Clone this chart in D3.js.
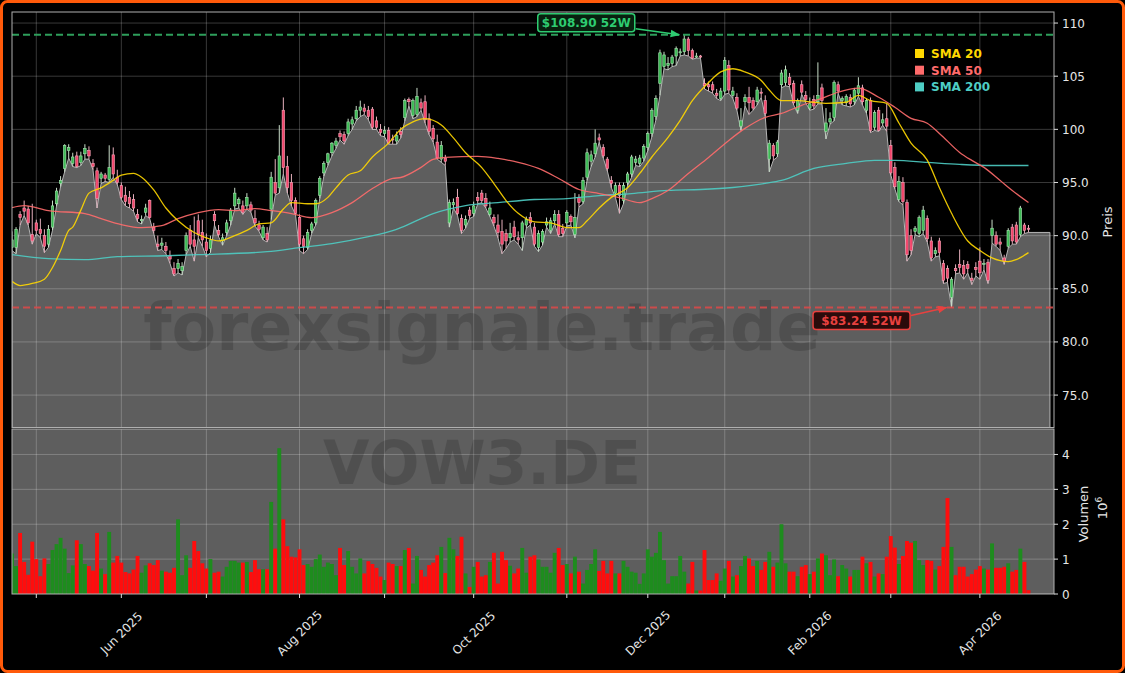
<!DOCTYPE html>
<html>
<head>
<meta charset="utf-8">
<script src="https://cdn.jsdelivr.net/npm/d3@7"></script>
<style>
body{margin:0;background:#000;}
svg{display:block;font-family:"DejaVu Sans",sans-serif;}
</style>
</head>
<body>
<script>
// daily candles, one per trading day (index 0 = first visible day)
var opens=[88.9,88.9,92.0,92.6,92.5,90.1,91.2,90.6,90.0,89.2,
90.8,93.0,94.9,96.3,98.0,96.8,97.5,96.9,97.7,98.0,
96.8,96.1,95.4,95.7,95.3,97.6,95.5,94.7,93.8,93.6,
93.4,92.0,91.4,92.2,93.3,90.8,89.2,89.1,89.0,88.1,
86.9,86.9,86.7,88.6,90.5,89.6,91.4,90.3,89.4,88.8,
92.0,90.5,89.5,90.3,91.4,92.8,93.0,92.8,92.8,92.9,
91.6,91.0,89.8,90.2,92.5,95.0,94.5,101.8,96.5,95.0,
93.3,91.7,89.7,88.9,90.5,91.2,93.8,95.9,96.9,97.8,
98.5,99.6,99.5,99.6,100.5,101.0,101.8,102.0,101.8,101.9,
100.8,100.0,99.6,99.9,99.1,98.9,99.8,101.1,102.8,101.3,
101.4,102.5,102.6,101.0,100.1,98.8,97.2,97.3,91.2,92.9,
93.6,91.6,91.0,92.4,92.1,93.6,94.0,93.5,92.0,91.7,
91.0,90.4,90.2,89.8,90.8,89.8,89.8,91.0,91.7,90.8,
88.9,89.4,91.0,90.5,91.4,92.0,90.7,91.2,91.8,90.1,
93.6,93.2,95.5,97.0,97.7,99.2,98.3,97.2,95.2,94.0,
94.7,93.3,95.0,95.8,96.9,96.8,97.3,98.3,99.6,101.2,
104.3,105.9,106.0,106.2,106.9,107.2,107.3,108.5,107.4,106.8,
106.9,104.3,104.2,104.2,103.4,102.9,103.6,106.0,103.2,103.0,
100.3,102.6,103.0,102.7,102.6,103.5,102.7,97.2,98.5,97.7,
104.2,104.4,104.9,104.3,101.8,104.2,103.2,102.0,102.8,102.6,
103.9,99.8,100.7,101.1,104.2,102.7,102.5,103.0,102.6,103.4,
103.9,101.8,102.7,100.2,101.8,100.6,101.0,98.5,96.4,93.4,
95.0,93.1,90.0,90.4,90.2,90.5,91.6,89.5,88.3,89.5,
87.4,86.9,84.2,86.9,87.3,87.2,87.3,86.0,87.0,87.6,
87.3,87.5,90.0,90.0,89.4,87.9,89.0,90.8,91.0,90.1,
91.0,90.7];
var highs=[90.4,90.8,92.3,93.3,92.8,93.0,91.5,91.6,90.6,91.0,
93.3,94.5,95.6,98.6,98.6,97.8,97.9,97.9,98.6,98.4,
97.2,96.4,96.0,95.9,98.5,98.3,96.2,95.0,94.6,94.2,
93.9,92.5,91.9,93.0,93.4,91.2,90.0,89.8,89.4,88.6,
87.5,87.8,87.5,90.3,91.0,91.8,92.0,91.5,90.2,90.0,
92.3,91.0,90.2,91.5,92.6,94.5,93.6,93.3,94.0,93.2,
92.4,91.4,91.0,90.8,96.0,97.2,100.4,103.0,97.5,95.8,
93.6,92.0,90.0,90.6,91.3,93.5,95.6,97.0,97.8,98.8,
99.2,99.9,99.8,101.0,101.2,102.2,102.7,102.4,102.2,102.1,
101.2,100.5,100.3,100.2,99.5,99.8,100.2,102.9,103.0,102.9,
103.9,102.9,103.2,101.5,100.4,99.5,98.9,97.6,93.4,93.5,
94.4,92.0,91.9,92.7,93.2,94.1,94.3,94.0,93.2,92.0,
92.0,91.5,90.6,91.2,91.4,90.4,91.4,91.8,92.2,91.2,
90.5,90.6,91.7,91.7,92.4,92.4,91.1,92.4,92.0,94.0,
93.9,95.5,98.2,98.0,100.0,99.6,98.6,97.4,95.6,95.0,
95.0,95.0,96.0,97.6,97.5,97.6,98.6,99.8,102.0,103.2,
107.5,107.3,106.8,107.0,107.8,107.6,108.9,108.7,107.6,107.2,
107.0,104.8,104.5,104.5,103.8,103.9,106.8,106.5,104.0,103.4,
102.0,103.3,104.0,103.0,104.0,103.9,103.2,99.0,98.7,99.0,
105.6,106.0,105.3,104.6,102.9,104.6,103.6,103.0,103.2,106.3,
104.3,102.0,101.6,104.6,104.5,103.1,103.3,103.3,103.9,104.9,
104.2,102.9,103.0,101.8,102.1,101.5,102.4,99.0,96.9,95.6,
95.5,93.4,90.6,90.9,91.9,92.8,91.9,89.9,88.9,89.8,
87.7,87.2,86.1,87.3,88.7,87.7,87.6,86.5,87.5,88.9,
87.8,87.8,91.5,90.4,89.8,88.2,90.7,91.1,91.3,92.8,
91.2,91.0];
var lows=[88.6,88.3,91.0,91.9,91.0,89.2,90.2,89.8,88.4,88.9,
90.5,92.8,94.6,96.0,97.3,96.5,96.4,96.6,97.2,97.2,
96.2,92.6,94.9,95.1,95.0,95.5,94.8,93.4,92.8,92.6,
92.3,91.3,91.1,91.9,91.6,90.2,88.6,88.7,88.3,87.4,
86.2,86.5,86.3,88.2,89.0,87.6,89.8,89.0,88.0,88.4,
91.0,89.9,89.1,90.0,91.0,92.5,92.6,92.0,92.5,92.2,
90.9,90.4,89.6,89.4,91.5,93.8,94.0,95.8,94.0,92.8,
92.0,88.6,88.3,88.7,90.2,91.0,93.5,95.6,96.6,97.5,
98.2,99.0,98.6,99.4,100.0,100.8,101.2,101.4,100.9,100.0,
100.0,99.4,99.3,98.6,98.6,98.6,99.2,100.8,102.2,101.0,
101.2,101.8,100.6,99.5,98.8,97.2,96.9,96.6,90.8,92.6,
91.9,90.2,90.7,91.6,91.8,93.0,93.1,92.6,91.8,90.9,
89.8,88.3,88.8,89.4,89.6,89.2,88.6,90.7,91.0,89.0,
88.5,89.1,90.8,90.2,91.1,89.9,89.9,90.9,91.0,89.8,
92.7,93.0,95.2,96.5,97.4,98.8,97.3,96.1,94.5,93.6,
92.1,93.0,94.7,95.5,96.6,96.5,97.0,98.0,99.3,100.9,
103.2,105.7,105.6,105.9,106.0,106.9,107.0,106.9,106.6,106.7,
106.7,103.8,103.6,103.4,102.9,102.7,103.3,103.4,102.9,101.8,
99.9,102.2,101.4,101.8,102.3,103.0,101.2,96.0,97.1,97.4,
103.9,104.1,104.0,102.3,101.5,103.3,102.5,101.8,101.9,102.4,
102.4,99.1,100.5,100.8,103.4,102.3,102.2,102.1,102.3,103.1,
102.3,101.5,99.7,99.9,99.8,100.4,99.8,95.7,94.4,93.2,
92.9,87.6,88.2,90.1,89.9,90.2,89.4,87.6,88.0,88.1,
85.5,85.6,83.24,86.4,86.5,85.9,86.5,85.4,86.2,85.9,
86.8,85.5,89.3,89.0,88.6,87.3,88.8,89.2,89.2,89.9,
90.2,90.3];
var closes=[89.6,90.6,91.7,92.3,91.2,89.5,90.5,90.2,89.0,90.6,
92.8,94.2,95.2,98.5,98.3,97.4,96.5,97.5,98.2,97.5,
96.5,93.5,95.8,95.4,96.4,95.8,95.0,93.6,93.2,93.0,
92.6,91.6,91.5,92.6,91.7,90.5,89.0,89.3,88.6,87.8,
86.4,87.4,87.1,90.0,89.2,89.0,90.1,89.6,88.6,89.6,
91.4,90.1,89.8,91.2,92.4,94.0,93.4,92.2,93.6,92.4,
91.2,90.6,90.8,89.6,95.5,94.0,97.5,96.4,94.5,93.3,
92.1,89.2,89.0,90.3,91.1,93.3,95.4,96.8,97.7,98.7,
98.9,99.3,98.9,100.7,100.9,101.8,102.1,101.7,101.2,100.2,
100.2,99.7,99.9,98.7,99.0,99.4,99.5,102.7,102.6,102.7,
103.1,102.0,100.9,99.8,99.1,97.3,98.5,97.0,93.1,93.1,
92.1,90.5,91.5,91.9,92.8,93.3,93.3,92.8,92.6,91.2,
90.3,89.2,89.5,90.2,89.9,89.6,91.2,91.5,91.2,89.2,
90.2,90.4,91.3,91.4,92.0,90.1,90.2,92.2,91.3,91.7,
93.1,95.2,97.8,97.6,98.7,99.0,97.5,96.3,94.9,94.7,
93.8,94.7,95.8,97.4,97.2,97.3,98.4,99.6,101.8,102.9,
107.2,107.0,106.2,106.8,107.6,107.3,108.5,107.4,106.7,106.9,
106.8,104.1,104.0,103.7,103.2,103.6,106.5,103.7,103.6,102.0,
100.8,103.0,102.5,102.0,103.7,103.4,101.5,98.7,97.5,98.8,
105.3,105.6,104.2,102.5,102.7,103.5,102.8,102.4,102.2,103.2,
102.7,100.6,101.0,104.4,103.6,102.9,103.1,102.4,103.7,104.1,
102.6,102.7,99.9,101.6,99.9,100.9,100.3,95.9,94.6,95.1,
93.2,88.2,88.6,90.7,91.7,92.4,89.7,87.9,88.6,88.4,
85.8,86.0,85.9,86.7,87.0,86.4,86.9,85.8,86.8,86.5,
87.4,85.8,90.7,89.2,89.2,87.6,90.5,89.5,89.4,92.6,
90.5,90.6];
// volume in millions
var volumes=[1.16,0.8,1.75,0.92,0.55,1.5,1.0,0.51,1.02,0.86,
1.26,1.43,1.61,1.3,0.6,0.82,1.54,1.43,0.86,0.8,
0.67,1.75,0.73,0.57,1.78,0.9,1.09,0.9,0.63,0.59,
0.7,1.09,0.61,0.82,0.88,0.83,0.97,0.67,0.64,0.61,
0.75,2.14,0.54,1.11,0.75,1.52,1.23,0.88,0.73,1.0,
0.61,0.64,0.5,0.78,0.95,0.95,0.9,0.9,0.92,0.63,
0.97,0.71,0.71,0.71,2.64,1.3,4.18,2.14,1.37,1.07,
1.05,1.28,0.83,0.86,0.78,1.0,1.13,0.78,0.9,0.86,
0.54,1.32,0.83,1.23,0.78,0.59,1.02,0.59,0.94,0.86,
0.75,0.5,0.4,0.9,0.86,0.8,0.8,1.26,1.32,0.3,
1.09,0.69,0.5,0.83,0.9,1.11,1.35,0.6,1.61,1.28,
1.09,1.64,0.59,0.2,0.78,0.92,0.5,0.54,0.92,1.18,
0.3,1.21,0.97,0.81,0.59,0.73,1.32,0.61,1.07,1.11,
0.99,0.78,0.78,0.61,1.18,1.32,0.83,0.86,0.59,1.07,
0.64,0.3,0.69,0.86,1.28,0.66,0.95,0.59,0.95,0.59,
0.59,0.95,0.78,0.64,0.61,0.29,0.59,1.28,1.07,1.18,
1.78,0.97,0.3,0.51,0.51,1.09,0.64,0.3,0.92,0.1,
0.1,1.26,0.4,0.4,0.59,0.38,0.73,0.95,0.5,0.54,
0.8,1.09,1.02,0.8,0.95,0.69,0.92,1.21,0.78,0.9,
2.0,0.88,0.64,0.64,0.51,0.78,0.83,0.57,0.64,1.02,
1.16,1.11,0.54,0.99,0.51,0.83,0.73,0.5,0.69,0.69,
1.07,0.88,0.92,0.5,0.59,0.57,1.07,1.66,1.33,0.86,
1.09,1.52,1.47,1.52,0.97,0.83,0.97,0.95,0.7,0.8,
1.35,2.75,1.35,0.54,0.78,0.78,0.5,0.57,0.7,0.8,
0.73,0.7,1.45,0.75,0.75,0.78,0.88,0.64,0.69,1.3,
0.92,0.11];

// moving averages at sample days
var sma20Days=[0,2,5,8,10,12,14,15,17,19,22,25,27,30,32,35,38,41,45,48,51,55,58,61,64,67,69,73,75,78,80,83,86,89,93,96,99,102,106,109,112,116,119,122,125,129,133,137,140,142,145,148,152,155,158,162,165,168,172,175,178,181,185,187,190,194,198,201,206,209,212,216,219,222,226,229,232,236,239,242,246,248,251];
var sma20=[85.7,85.3,85.5,85.9,87.0,88.6,90.5,90.8,92.4,94.0,94.5,95.2,95.7,95.85,95.5,94.3,92.6,91.4,90.3,89.8,89.5,90.0,90.5,91.1,91.2,92.5,93.1,93.0,93.0,93.6,94.5,95.7,96.1,97.4,98.7,100.0,100.7,101.0,100.4,99.2,97.8,96.4,94.9,93.3,92.1,91.3,91.2,90.75,90.75,91.4,92.6,93.6,94.5,95.85,97.4,99.25,100.85,102.7,104.4,105.4,105.7,105.4,104.6,103.7,102.7,102.7,102.55,102.45,102.55,103.2,102.7,102.45,100.6,98.7,97.1,94.5,92.1,89.5,88.6,87.9,87.55,87.75,88.4];
var sma50Days=[0,3,9,18,22,27,32,37,41,46,51,55,60,64,69,74,79,84,89,94,96,101,104,107,115,120,125,130,135,140,145,150,155,158,162,167,172,177,181,186,190,195,200,204,209,214,218,222,226,229,234,237,240,244,247,251];
var sma50=[92.64,92.83,92.36,92.08,91.6,91.04,90.75,90.94,91.6,92.17,92.45,92.36,92.55,92.36,92.08,91.7,92.17,93.11,94.43,95.38,95.47,96.42,97.17,97.36,97.45,97.26,96.89,96.32,95.38,94.34,93.96,93.58,93.11,93.49,94.25,95.85,97.36,98.96,100.09,101.13,101.5,102.26,102.92,103.49,103.87,103.02,102.08,101.04,100.57,99.62,97.83,97.08,96.42,95.19,94.25,93.11];
var sma200Days=[0,9,18,26,38,46,63,71,79,88,94,96,104,112,120,129,137,145,153,162,170,178,186,190,198,206,213,218,226,234,242,251];
var sma200=[88.21,87.83,87.74,88.02,88.11,88.21,88.49,88.87,89.25,89.91,90.47,90.75,92.08,92.83,93.11,93.4,93.49,93.77,93.96,94.25,94.34,94.53,94.91,95.19,96.32,96.79,97.08,97.08,96.89,96.7,96.6,96.6];

// first trading day of each month, and its label
var monthDays=[6,27,48,71,92,114,137,157,176,197,217,239];
var monthLabels=["","Jun 2025","","Aug 2025","","Oct 2025","","Dec 2025","","Feb 2026","","Apr 2026"];
var priceTicks=[75,80,85,90,95,100,105,110];
var priceTickLabels=["75.0","80.0","85.0","90.0","95.0","100","105","110"];
var volTicks=[0,1,2,3,4];
var legendNames=["SMA 20","SMA 50","SMA 200"];
var legendColors=["#FFD700","#FF6B6B","#4ECDC4"];

var svgWidth=1125, svgHeight=673;
var left=12, right=1054;
var pTop=12, pBottom=427.5, vTop=429, vBottom=594;
var gridColor="rgba(255,255,255,0.22)";

var svg=d3.select("body").append("svg")
  .attr("width",svgWidth)
  .attr("height",svgHeight);

svg.append("rect").attr("width",svgWidth).attr("height",svgHeight).attr("fill","#000");

var defs=svg.append("defs");
defs.append("clipPath").attr("id","clipP").append("rect")
  .attr("x",left).attr("y",pTop).attr("width",right-left).attr("height",pBottom-pTop);
defs.append("clipPath").attr("id","clipV").append("rect")
  .attr("x",left).attr("y",vTop).attr("width",right-left).attr("height",vBottom-vTop);
[["arrG","#2ecc71"],["arrR","#e8413f"]].forEach(function(m){
  defs.append("marker").attr("id",m[0]).attr("viewBox","0 0 10 10")
    .attr("refX",9).attr("refY",5).attr("markerWidth",6).attr("markerHeight",6)
    .attr("orient","auto")
    .append("path").attr("d","M0,1 L10,5 L0,9 z").attr("fill",m[1]);
});

// scales
var x=d3.scaleLinear().domain([0,257.3]).range([left,right]);
var y=d3.scaleLinear().domain([71.95,111.04]).range([pBottom,pTop]);
var yv=d3.scaleLinear().domain([0,4.73]).range([vBottom,vTop]);
var step=x(1)-x(0);

var days=d3.range(closes.length);

// ---------- price panel ----------
var gP=svg.append("g").attr("clip-path","url(#clipP)");

// low line as filled area, padded flat to the right like the original
var areaPts=days.map(function(d){return [d,lows[d]];});
areaPts.push([256.3,lows[lows.length-1]]);
var area=d3.area().x(function(d){return x(d[0]);}).y0(pBottom+2).y1(function(d){return y(d[1]);});
gP.append("path").attr("d",area(areaPts))
  .attr("fill","#5e5e5e").attr("stroke","#b5b5b5").attr("stroke-width",1);

// grid
gP.selectAll(".hg").data(priceTicks).enter().append("line")
  .attr("x1",left).attr("x2",right)
  .attr("y1",function(d){return y(d);}).attr("y2",function(d){return y(d);})
  .attr("stroke",gridColor).attr("stroke-width",1);
gP.selectAll(".vg").data(monthDays).enter().append("line")
  .attr("x1",function(d){return x(d);}).attr("x2",function(d){return x(d);})
  .attr("y1",pTop).attr("y2",pBottom)
  .attr("stroke",gridColor).attr("stroke-width",1);

// watermark
gP.append("text").attr("x",482).attr("y",350).attr("text-anchor","middle")
  .attr("font-size",65).attr("font-weight","bold").attr("fill","#000").attr("opacity",0.15)
  .text("forexsignale.trade");

// candles
var bodyW=step*0.62;
var candle=gP.selectAll(".c").data(days).enter().append("g");
candle.append("line")
  .attr("x1",function(d){return x(d);}).attr("x2",function(d){return x(d);})
  .attr("y1",function(d){return y(highs[d]);}).attr("y2",function(d){return y(lows[d]);})
  .attr("stroke",function(d){return closes[d]>=opens[d]?"#c8dcc8":"#e6b0bd";})
  .attr("stroke-width",1);
candle.append("rect")
  .attr("x",function(d){return x(d)-bodyW/2;})
  .attr("width",bodyW)
  .attr("y",function(d){return y(Math.max(opens[d],closes[d]));})
  .attr("height",function(d){return Math.max(1,Math.abs(y(opens[d])-y(closes[d])));})
  .attr("fill",function(d){return closes[d]>=opens[d]?"#3dbb55":"#f2456b";})
  .attr("stroke",function(d){return closes[d]>=opens[d]?"#a9e2b2":"#f7a6b8";})
  .attr("stroke-width",0.6);

// moving averages
function smaLine(idx,vals,color){
  var pts=idx.map(function(d,i){return [d,vals[i]];});
  gP.append("path")
    .attr("d",d3.line().curve(d3.curveMonotoneX).x(function(d){return x(d[0]);}).y(function(d){return y(d[1]);})(pts))
    .attr("fill","none").attr("stroke",color).attr("stroke-width",1.3).attr("opacity",0.9);
}
smaLine(sma200Days,sma200,legendColors[2]);
smaLine(sma50Days,sma50,legendColors[1]);
smaLine(sma20Days,sma20,legendColors[0]);

// 52 week high / low
var hiVal=d3.max(highs), loVal=d3.min(lows);
var hiDay=highs.indexOf(hiVal), loDay=lows.indexOf(loVal);
gP.append("line").attr("x1",left).attr("x2",right).attr("y1",y(hiVal)).attr("y2",y(hiVal))
  .attr("stroke","#2e9e5b").attr("stroke-width",1.8).attr("stroke-dasharray","7,4");
gP.append("line").attr("x1",left).attr("x2",right).attr("y1",y(loVal)).attr("y2",y(loVal))
  .attr("stroke","#d94a4a").attr("stroke-width",1.9).attr("stroke-dasharray","7,4").attr("opacity",0.9);

function extremeLabel(day,val,dx,dy,color,fill,marker){
  var px=x(day), py=y(val);
  var cx=px+dx, cy=py+dy, w=97, h=18;
  var g=svg.append("g");
  g.append("line").attr("x1",cx+w/2+1).attr("y1",cy+(dy<0?6:-5))
    .attr("x2",px-5).attr("y2",py)
    .attr("stroke",color).attr("stroke-width",1.6).attr("marker-end","url(#"+marker+")");
  g.append("rect").attr("x",cx-w/2).attr("y",cy-h/2).attr("width",w).attr("height",h).attr("rx",3)
    .attr("fill",fill).attr("stroke",color).attr("stroke-width",1.5);
  g.append("text").attr("x",cx).attr("y",cy+4.5).attr("text-anchor","middle")
    .attr("font-size",12).attr("font-weight","bold").attr("fill",color)
    .text("$"+d3.format(".2f")(val)+" 52W");
}
extremeLabel(hiDay,hiVal,-98,-12,"#2ecc71","#08200f","arrG");
extremeLabel(loDay,loVal,-90,13,"#e8413f","#2a0b0b","arrR");

// legend
var leg=svg.append("g").attr("transform","translate(915,49)");
legendNames.forEach(function(n,i){
  leg.append("rect").attr("x",0).attr("y",i*16.7).attr("width",9).attr("height",9).attr("fill",legendColors[i]);
  leg.append("text").attr("x",16).attr("y",i*16.7+9).attr("font-size",12).attr("font-weight","bold")
    .attr("fill",legendColors[i]).text(n);
});

// frame of price panel
svg.append("rect").attr("x",left).attr("y",pTop).attr("width",right-left).attr("height",pBottom-pTop)
  .attr("fill","none").attr("stroke","#b0b0b0").attr("stroke-width",1);

// price axis
var pAxis=svg.append("g").attr("transform","translate("+right+",0)");
priceTicks.forEach(function(t,i){
  pAxis.append("line").attr("x1",0).attr("x2",4).attr("y1",y(t)).attr("y2",y(t)).attr("stroke","#ddd");
  pAxis.append("text").attr("x",8).attr("y",y(t)+4.5).attr("font-size",12).attr("fill","#e6e6e6")
    .text(priceTickLabels[i]);
});
svg.append("text").attr("transform","translate(1112,222) rotate(-90)").attr("text-anchor","middle")
  .attr("font-size",13).attr("fill","#e6e6e6").text("Preis");

// ---------- volume panel ----------
svg.append("rect").attr("x",left).attr("y",vTop).attr("width",right-left).attr("height",vBottom-vTop)
  .attr("fill","#5e5e5e");
var gV=svg.append("g").attr("clip-path","url(#clipV)");
gV.selectAll(".vhg").data(volTicks).enter().append("line")
  .attr("x1",left).attr("x2",right)
  .attr("y1",function(d){return yv(d);}).attr("y2",function(d){return yv(d);})
  .attr("stroke",gridColor);
gV.selectAll(".vvg").data(monthDays).enter().append("line")
  .attr("x1",function(d){return x(d);}).attr("x2",function(d){return x(d);})
  .attr("y1",vTop).attr("y2",vBottom).attr("stroke",gridColor);
gV.append("text").attr("x",482).attr("y",484).attr("text-anchor","middle")
  .attr("font-size",60).attr("font-weight","bold").attr("fill","#000").attr("opacity",0.15)
  .text("VOW3.DE");
gV.selectAll(".vb").data(days).enter().append("rect")
  .attr("x",function(d){return x(d)-step*0.48;})
  .attr("width",step*0.96)
  .attr("y",function(d){return yv(volumes[d]);})
  .attr("height",function(d){return yv(0)-yv(volumes[d]);})
  .attr("fill",function(d){return closes[d]>=opens[d]?"#1e8c1e":"#ff0d0d";});

svg.append("rect").attr("x",left).attr("y",vTop).attr("width",right-left).attr("height",vBottom-vTop)
  .attr("fill","none").attr("stroke","#b0b0b0").attr("stroke-width",1);

var vAxis=svg.append("g").attr("transform","translate("+right+",0)");
volTicks.forEach(function(t){
  vAxis.append("line").attr("x1",0).attr("x2",4).attr("y1",yv(t)).attr("y2",yv(t)).attr("stroke","#ddd");
  vAxis.append("text").attr("x",8).attr("y",yv(t)+4.5).attr("font-size",12).attr("fill","#e6e6e6").text(t);
});
svg.append("text").attr("transform","translate(1088,514) rotate(-90)").attr("text-anchor","middle")
  .attr("font-size",13).attr("fill","#e6e6e6").text("Volumen");
var pw=svg.append("text").attr("transform","translate(1107,508) rotate(-90)").attr("text-anchor","middle")
  .attr("font-size",13).attr("fill","#e6e6e6");
pw.append("tspan").text("10");
pw.append("tspan").attr("dy",-5).attr("font-size",9).text("6");

// date axis
var xAxis=svg.append("g");
monthDays.forEach(function(d,i){
  xAxis.append("line").attr("x1",x(d)).attr("x2",x(d)).attr("y1",vBottom).attr("y2",vBottom+4).attr("stroke","#ddd");
  if(monthLabels[i]){
    xAxis.append("text").attr("transform","translate("+x(d)+",633) rotate(-45)")
      .attr("text-anchor","middle").attr("dy","0.35em")
      .attr("font-size",12).attr("fill","#e6e6e6").text(monthLabels[i]);
  }
});

// outer orange frame
svg.append("rect").attr("x",1.5).attr("y",1.5).attr("width",svgWidth-3).attr("height",svgHeight-3)
  .attr("rx",6).attr("fill","none").attr("stroke","#ff5a0a").attr("stroke-width",3);
</script>
</body>
</html>
